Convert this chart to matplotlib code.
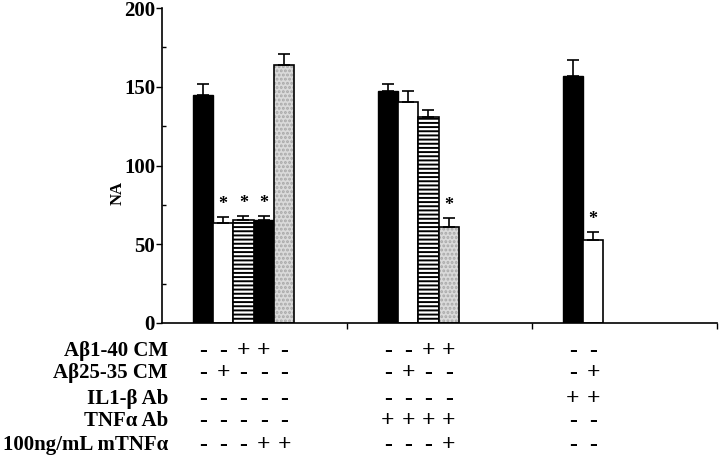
import numpy as np
import matplotlib.pyplot as plt
from matplotlib.ticker import MultipleLocator

plt.rcParams['font.family'] = ['Liberation Serif', 'DejaVu Serif']
plt.rcParams['font.weight'] = 'bold'
plt.rcParams['hatch.linewidth'] = 1.4

# bar heights and (upper) error bars for the three groups
group_values = [[144.5, 63.5, 65.5, 65.5, 164.0],
                [147.0, 140.5, 130.5, 61.0],
                [157.0, 53.0]]
group_errors = [[7.0, 3.5, 2.5, 2.5, 6.5],
                [4.5, 6.5, 5.0, 5.5],
                [10.0, 4.5]]
group_styles = [['black', 'white', 'hatch', 'black', 'gray'],
                ['black', 'white', 'hatch', 'gray'],
                ['black', 'white']]
group_stars = [[0, 1, 1, 1, 0],
               [0, 0, 0, 1],
               [0, 1]]

row_labels = ['A\u03b21-40 CM', 'A\u03b225-35 CM', 'IL1-\u03b2 Ab', 'TNF\u03b1 Ab',
              '100ng/mL mTNF\u03b1']
row_signs = [
    ['- - + + -', '- - + +', '- -'],
    ['- + - - -', '- + - -', '- +'],
    ['- - - - -', '- - - -', '+ +'],
    ['- - - - -', '+ + + +', '- -'],
    ['- - - + +', '- - - +', '- -'],
]

ylabel = 'NA'

fig = plt.figure(figsize=(7.2, 4.57), dpi=100)
ax = fig.add_axes([162 / 720, 1 - 323 / 457, 555 / 720, 315 / 457])

width = 0.11
offset = 0.165
centers = []
for g in range(len(group_values)):
    cs = []
    for j in range(len(group_values[g])):
        x = g + offset + j * width
        v = group_values[g][j]
        e = group_errors[g][j]
        st = group_styles[g][j]
        if st == 'black':
            ax.bar(x, v, width, align='edge', color='black', edgecolor='black', linewidth=1, zorder=2)
        elif st == 'white':
            ax.bar(x, v, width, align='edge', color='white', edgecolor='black', linewidth=1.2, zorder=2)
        elif st == 'hatch':
            ax.bar(x, v, width, align='edge', color='white', edgecolor='black', hatch='----', linewidth=1.2, zorder=2)
        else:
            ax.bar(x, v, width, align='edge', color='#dadada', edgecolor='#a8a8a8', hatch='....', linewidth=0, zorder=2)
            ax.bar(x, v, width, align='edge', color='none', edgecolor='black', linewidth=1.2, zorder=3)
        cx = x + width / 2
        cs.append(cx)
        ax.errorbar(cx, v, yerr=[[0], [e]], fmt='none', ecolor='black', elinewidth=1.2,
                    capsize=4, capthick=1.2, zorder=4)
        if group_stars[g][j]:
            ax.annotate('*', (cx, v + e), xytext=(0, 3), textcoords='offset points',
                        ha='center', va='bottom', fontsize=13, fontweight='bold')
    centers.append(cs)

ax.set_xlim(0, 3)
ax.set_ylim(0, 200)
ax.set_xticks([1, 2, 3])
ax.set_xticklabels([])
ax.tick_params(axis='x', direction='out', length=4, width=1)
ax.yaxis.set_major_locator(MultipleLocator(50))
ax.yaxis.set_minor_locator(MultipleLocator(25))
ax.tick_params(axis='y', which='major', direction='out', length=4, width=1, labelsize=15, pad=1)
ax.tick_params(axis='y', which='minor', direction='in', length=3, width=1)
for lab in ax.get_yticklabels():
    lab.set_fontweight('bold')
ax.spines['top'].set_visible(False)
ax.spines['right'].set_visible(False)
ax.spines['left'].set_linewidth(1.2)
ax.spines['bottom'].set_linewidth(1.2)

fig.text(118 / 720, 1 - 193 / 457, ylabel, rotation=90, ha='center', va='center',
         fontsize=12, fontweight='bold')

# condition table under the axis
row_y = [351, 373, 399, 421, 445]
for r in range(len(row_labels)):
    yf = 1 - row_y[r] / 457
    fig.text(168 / 720, yf, row_labels[r], ha='right', va='center', fontsize=15, fontweight='bold')
    for g in range(3):
        signs = row_signs[r][g].split()
        for j, s in enumerate(signs):
            xd = ax.transData.transform((centers[g][j], 0))[0]
            xf = fig.transFigure.inverted().transform((xd, 0))[0]
            fig.text(xf, yf, s, ha='center', va='center', fontsize=17, fontweight='bold')

fig.savefig('out.png', dpi=100)
